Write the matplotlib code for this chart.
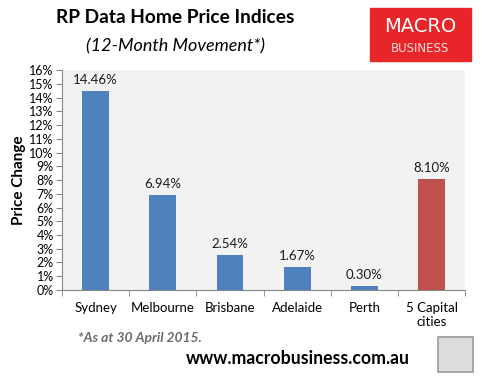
import matplotlib.pyplot as plt
from matplotlib.patches import Rectangle
from matplotlib.ticker import FixedLocator

cities = ["Sydney", "Melbourne", "Brisbane", "Adelaide", "Perth", "5 Capital\ncities"]
changes = [14.46, 6.94, 2.54, 1.67, 0.30, 8.10]
bar_colors = ["#4f81bd"] * 5 + ["#c0504d"]
y_ticks = list(range(0, 17))

plt.rcParams['font.family'] = ['Lato', 'DejaVu Sans']

fig = plt.figure(figsize=(4.85, 3.81), dpi=100)
ax = fig.add_axes([0.128, 0.239, 0.831, 0.577])
ax.set_facecolor("#f2f2f2")

x = list(range(len(cities)))
ax.bar(x, changes, width=0.4, color=bar_colors, zorder=2)
for xi, v in zip(x, changes):
    ax.text(xi, v + 0.35, "%.2f%%" % v, ha="center", va="bottom", fontsize=9.5, color="#1a1a1a")

ax.set_xlim(-0.5, len(cities) - 0.5)
ax.set_ylim(0, 16)
ax.set_yticks(y_ticks)
ax.set_yticklabels(["%d%%" % t for t in y_ticks], fontsize=9)
ax.set_xticks(x)
ax.set_xticklabels(cities, fontsize=9.5)
ax.tick_params(axis="x", length=0, pad=9)
ax.xaxis.set_minor_locator(FixedLocator([i - 0.5 for i in range(len(cities) + 1)]))
ax.tick_params(axis="x", which="minor", length=4, color="#868686")
ax.tick_params(axis="y", length=4, color="#868686", pad=2)
for s in ["top", "right"]:
    ax.spines[s].set_visible(False)
for s in ["left", "bottom"]:
    ax.spines[s].set_color("#868686")
ax.set_ylabel("Price Change", fontsize=11, fontweight="bold", labelpad=2)

# titles
fig.text(0.361, 0.955, "RP Data Home Price Indices", ha="center", va="center",
         fontsize=13.8, fontweight="bold")
fig.text(0.361, 0.877, "(12-Month Movement*)", ha="center", va="center",
         fontsize=13, style="italic")

# logo box
fig.patches.append(Rectangle((370 / 485, 1 - 61 / 381), 101 / 485, 53 / 381,
                             transform=fig.transFigure, color="#e8262a", zorder=0))
fig.text(420 / 485, 1 - 26 / 381, "MACRO", ha="center", va="center",
         fontsize=14, color="white", family="DejaVu Sans")
fig.text(420 / 485, 1 - 48 / 381, "BUSINESS", ha="center", va="center",
         fontsize=8.5, color="#f8dada", family="DejaVu Sans")

# footer
fig.text(78 / 485, 1 - 338 / 381, "*As at 30 April 2015.", ha="left", va="center",
         fontsize=10, style="italic", fontweight="bold", color="#6b6b6b")
fig.text(298 / 485, 1 - 358 / 381, "www.macrobusiness.com.au", ha="center", va="center",
         fontsize=12.7, fontweight="bold", color="black")
fig.patches.append(Rectangle((438 / 485, 1 - 372 / 381), 35 / 485, 35 / 381,
                             transform=fig.transFigure, facecolor="#dcdcdc",
                             edgecolor="#9a9a9a", lw=1.2, zorder=0))

fig.savefig("out.png", dpi=100)
